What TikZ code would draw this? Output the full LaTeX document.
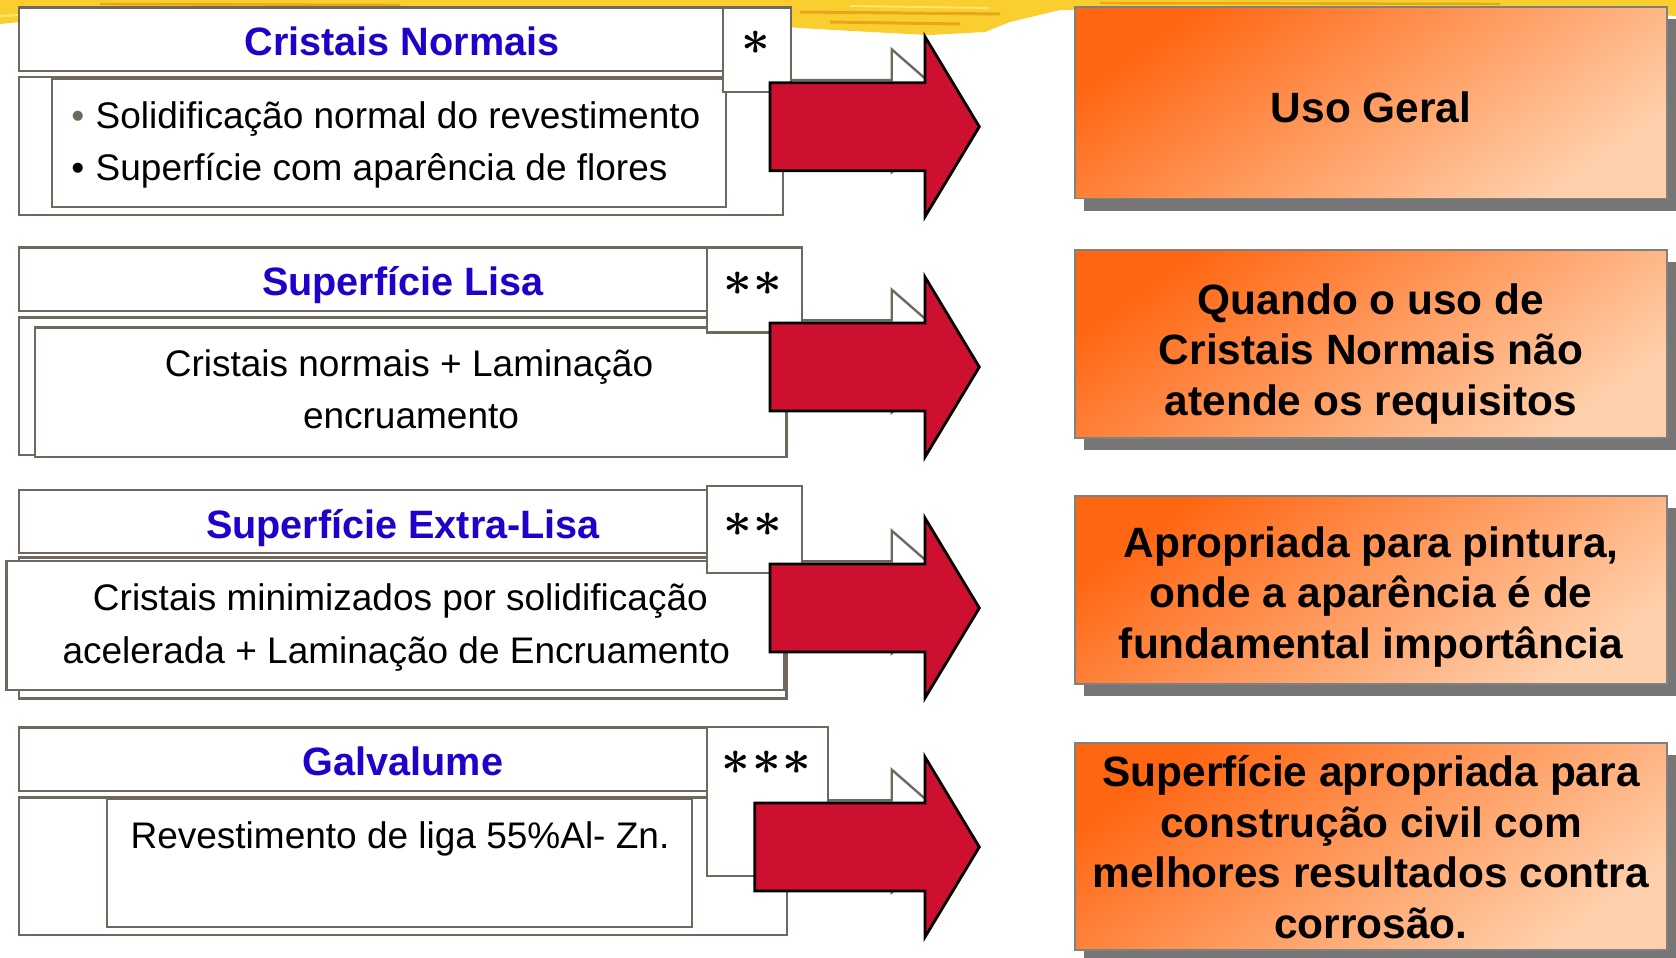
\documentclass[tikz,border=0pt]{standalone}
\usepackage{fontspec}
\setmainfont{Liberation Sans}
\definecolor{boxline}{RGB}{110,104,94}
\definecolor{titleblue}{RGB}{34,0,204}
\definecolor{arrowred}{RGB}{206,16,48}
\definecolor{orangeA}{RGB}{255,102,18}
\definecolor{orangeM}{RGB}{255,162,120}
\definecolor{orangeB}{RGB}{255,208,172}
\definecolor{shadowgray}{RGB}{118,118,118}
\definecolor{yellowA}{RGB}{250,206,46}
\definecolor{yellowB}{RGB}{230,168,24}
\definecolor{yellowC}{RGB}{255,228,110}
\tikzset{
  boxframe/.style={draw=boxline, line width=1.2pt, fill=white},
  titletext/.style={font=\fontsize{19.8}{24}\selectfont\bfseries, text=titleblue, anchor=base, inner sep=0pt},
  bodytext/.style={font=\fontsize{18.5}{27}\selectfont, anchor=base, inner sep=0pt},
  startext/.style={font=\fontsize{25}{30}\selectfont\boldmath, inner sep=0pt},
  redarrow/.style={fill=arrowred, draw=black, line width=1.4pt, line join=miter},
  backarrow/.style={fill=white, draw=boxline, line width=1.2pt},
  resultbox/.style={draw=gray, line width=0.9pt, shading=axis, top color=orangeA, middle color=orangeM, bottom color=orangeB, shading angle=35},
  resulttext/.style={font=\fontsize{21.2}{25.3}\selectfont\bfseries, align=center, inner sep=0pt},
}
\begin{document}
\begin{tikzpicture}[x=0.5pt,y=-0.5pt]
\useasboundingbox (0,0) rectangle (1676,958);
% yellow brush band
\fill[yellowA] (0,0) -- (1676,0) -- (1676,16) -- (1620,13) -- (1400,9) -- (1200,8) -- (1060,10) -- (1010,22) -- (985,32) -- (930,35) -- (870,32) -- (800,28) -- (740,22) -- (600,15) -- (400,12) -- (200,11) -- (60,14) -- (20,22) -- (0,24) -- cycle;
\draw[yellowB, line width=1.5pt] (800,12) -- (1000,14);
\draw[yellowB, line width=1.5pt] (830,22) -- (960,24);
\draw[yellowB, line width=1.2pt] (100,4) -- (400,5);
\draw[yellowB, line width=1.2pt] (1100,3) -- (1500,4);
\draw[yellowC, line width=1pt] (850,6) -- (990,8);
\draw[yellowC, line width=1pt] (0,16) -- (40,14);

% background (outline) arrows
\foreach \c in {126.7,367,608,847} {
  \draw[backarrow] (760,\c-46.7) -- (891.7,\c-46.7) -- (891.7,\c-77.4) -- (962,\c-16) -- (891.7,\c+45.4) -- (891.7,\c+14.7) -- (760,\c+14.7) -- cycle;
}

% ---- Row 1
\draw[boxframe] (18.7,76.7) rectangle (783,215);
\draw[boxframe] (52,78.3) rectangle (725.8,206.7);
\draw[boxframe] (18.7,7.3) rectangle (723,70.7);
\draw[boxframe] (723,7.3) rectangle (790.7,92);
\node[titletext] (t1) at (402,55) {Cristais Normais};
\node[bodytext, anchor=base west] (b1a) at (71,128) {\textcolor{boxline}{•}};
\node[bodytext, anchor=base west] (l1a) at (95.3,128) {Solidificação normal do revestimento};
\node[bodytext, anchor=base west] (b1b) at (71,180) {•};
\node[bodytext, anchor=base west] (l1b) at (95.3,180) {Superfície com aparência de flores};
\node[startext] (s1) at (756,43) {$\ast$};

% ---- Row 2
\draw[boxframe] (18.7,317.3) rectangle (780,455);
\draw[boxframe] (34.8,327.3) rectangle (786.3,456.7);
\draw[boxframe] (18.7,247.3) rectangle (707,310.7);
\draw[boxframe] (707,247.3) rectangle (801.8,332.3);
\node[titletext] (t2) at (403,295) {Superfície Lisa};
\node[bodytext] (l2a) at (409,376.7) {Cristais normais + Laminação};
\node[bodytext] (l2b) at (411,428.3) {encruamento};
\node[startext] (s2) at (752.6,283.3) {$\mathord{\ast}\mkern0.6mu\mathord{\ast}$};

% ---- Row 3
\draw[boxframe] (18.7,557.3) rectangle (786.3,698.3);
\draw[boxframe] (6.4,560.7) rectangle (784,690);
\draw[boxframe] (18.7,490) rectangle (707,552.7);
\draw[boxframe] (707,486) rectangle (801.8,572.7);
\node[titletext] (t3) at (403,538.3) {Superfície Extra-Lisa};
\node[bodytext] (l3a) at (400.4,610) {Cristais minimizados por solidificação};
\node[bodytext] (l3b) at (396.3,663.3) {acelerada + Laminação de Encruamento};
\node[startext] (s3) at (752.6,525) {$\mathord{\ast}\mkern0.6mu\mathord{\ast}$};

% ---- Row 4
\draw[boxframe] (18.7,797.3) rectangle (786.7,935);
\draw[boxframe] (107,798.3) rectangle (692,926.7);
\draw[boxframe] (18.7,727.3) rectangle (707,790.7);
\draw[boxframe] (707,727) rectangle (828,876);
\node[titletext] (t4) at (403,775) {Galvalume};
\node[bodytext] (l4a) at (400,848.3) {Revestimento de liga 55\%Al- Zn.};
\node[startext] (s4) at (766.7,763) {$\mathord{\ast}\mkern0.6mu\mathord{\ast}\mkern0.6mu\mathord{\ast}$};

% red arrows
\foreach \c/\L in {126.7/770, 367/770, 608/770, 847/754.7} {
  \draw[redarrow] (\L,\c-44) -- (925,\c-44) -- (925,\c-90) -- (979.3,\c) -- (925,\c+90) -- (925,\c+44) -- (\L,\c+44) -- cycle;
}

% result boxes
\foreach \t/\b in {7/198.5, 250/438, 496/684, 742.7/950} {
  \fill[shadowgray] (1084,\t+12) rectangle (1676,\b+12);
  \draw[resultbox] (1075,\t) rectangle (1667,\b);
}
\node[resulttext] (r1) at (1371,107) {Uso Geral};
\node[resulttext] (r2) at (1371,354) {Quando o uso de\\Cristais Normais não\\atende os requisitos};
\node[resulttext] (r3) at (1371,597) {Apropriada para pintura,\\onde a aparência é de\\fundamental importância};
\node[resulttext] (r4) at (1371,847) {Superfície apropriada para\\construção civil com\\melhores resultados contra\\corrosão.};
\end{tikzpicture}
\end{document}
